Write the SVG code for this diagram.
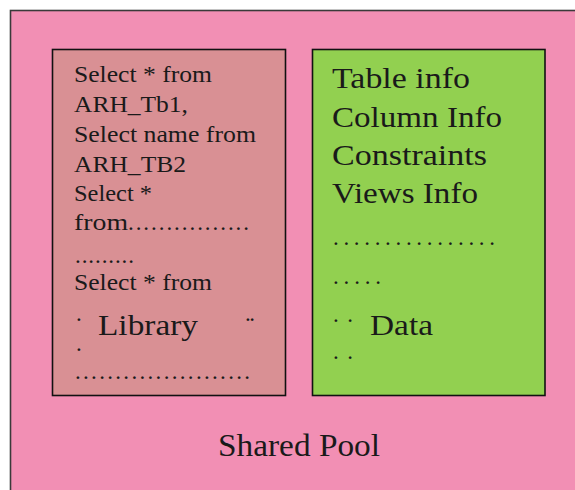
<svg xmlns="http://www.w3.org/2000/svg" width="575" height="490" viewBox="0 0 575 490">
<style>
text{font-family:"Liberation Serif","Times New Roman",serif;fill:#1a1a1a}
.s{font-size:23px}
.b{font-size:29px}
.box{stroke:#111;stroke-width:1.6}
</style>
<rect x="0" y="0" width="575" height="490" fill="#ffffff"/>
<g id="shared-pool">
<rect x="10.5" y="10.5" width="580" height="500" fill="#F28FB4" stroke="#3a3a3a" stroke-width="1.6"/>
<text class="b" x="218" y="456" textLength="162" lengthAdjust="spacingAndGlyphs" style="font-size:31px">Shared Pool</text>
</g>
<g id="library">
<rect class="box" x="52.5" y="49.5" width="233" height="346" fill="#D99094"/>
<text class="s" x="74" y="82" textLength="138" lengthAdjust="spacingAndGlyphs">Select * from</text>
<text class="s" x="74" y="112" textLength="114" lengthAdjust="spacingAndGlyphs">ARH_Tb1,</text>
<text class="s" x="74" y="142" textLength="182" lengthAdjust="spacingAndGlyphs">Select name from</text>
<text class="s" x="74" y="172" textLength="112" lengthAdjust="spacingAndGlyphs">ARH_TB2</text>
<text class="s" x="74" y="201" textLength="78" lengthAdjust="spacingAndGlyphs">Select *</text>
<text class="s" x="74" y="230" textLength="54" lengthAdjust="spacingAndGlyphs">from</text>
<text class="s" x="128" y="230" textLength="121" lengthAdjust="spacing">................</text>
<text class="s" x="75" y="263" textLength="59" lengthAdjust="spacing">.........</text>
<text class="s" x="74" y="290" textLength="138" lengthAdjust="spacingAndGlyphs">Select * from</text>
<text class="s" x="76" y="321">.</text>
<text class="b" x="98" y="335" textLength="100" lengthAdjust="spacingAndGlyphs">Library</text>
<text class="s" x="245" y="321" textLength="10" lengthAdjust="spacing">..</text>
<text class="s" x="76" y="351">.</text>
<text class="s" x="75" y="379" textLength="175" lengthAdjust="spacing">......................</text>
</g>
<g id="data">
<rect class="box" x="312.5" y="49.5" width="232.5" height="346" fill="#92D050"/>
<text class="b" x="332" y="88" textLength="138" lengthAdjust="spacingAndGlyphs">Table info</text>
<text class="b" x="332" y="127" textLength="170" lengthAdjust="spacingAndGlyphs">Column Info</text>
<text class="b" x="332" y="165" textLength="155" lengthAdjust="spacingAndGlyphs">Constraints</text>
<text class="b" x="332" y="203" textLength="146" lengthAdjust="spacingAndGlyphs">Views Info</text>
<text class="s" x="333" y="245" textLength="162" lengthAdjust="spacing">................</text>
<text class="s" x="333" y="284" textLength="48" lengthAdjust="spacing">.....</text>
<text class="s" x="333" y="322" textLength="20" lengthAdjust="spacing">..</text>
<text class="b" x="370" y="335" textLength="63" lengthAdjust="spacingAndGlyphs">Data</text>
<text class="s" x="333" y="359" textLength="20" lengthAdjust="spacing">..</text>
</g>
<g id="connectors"></g>
</svg>
